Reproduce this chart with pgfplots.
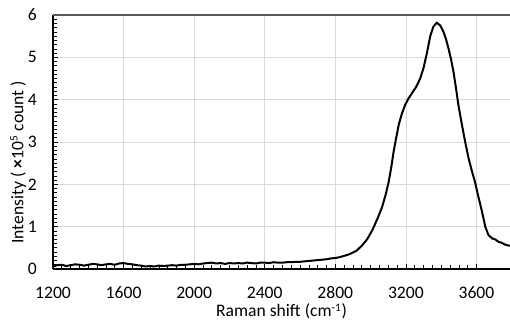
\documentclass[border=0pt]{standalone}
\usepackage{fontspec}
\setmainfont{Carlito}
\usepackage{pgfplots}
\pgfplotsset{compat=1.18}
\begin{document}
\begin{tikzpicture}
\begin{axis}[
  at={(0pt,0pt)}, anchor=south west,
  scale only axis,
  width=342.75pt, height=190.5pt,
  xmin=1200, xmax=3790, ymin=0, ymax=6,
  xtick={1200,1600,...,3600}, ytick={0,1,...,6},
  minor x tick num=7, minor y tick num=9,
  axis x line*=bottom, axis y line*=left,
  axis line style={black, line width=0.8pt},
  tick align=inside,
  major tick length=4pt, minor tick length=2.8pt,
  tick style={black, line width=0.5pt},
  grid=major, major grid style={gray!30, line width=0.6pt},
  /pgf/number format/assume math mode=true,
  /pgf/number format/1000 sep={},
  tick label style={font=\fontsize{13.2}{14}\selectfont, inner sep=0pt},
  xticklabel style={anchor=base, yshift=-22pt},
  yticklabel style={anchor=east, xshift=-12pt},
  xlabel={Raman shift (cm\textsuperscript{\fontsize{8.5}{8.5}\selectfont -1})},
  xlabel style={font=\fontsize{13.2}{14}\selectfont, at={(rel axis cs:0.5,0)}, anchor=base, inner sep=0pt, yshift=-36pt},
  ylabel={Intensity ( \textbf{×}10\textsuperscript{\fontsize{8.5}{8.5}\selectfont 5} count )},
  ylabel style={font=\fontsize{13.2}{14}\selectfont, at={(rel axis cs:0,0.42)}, anchor=center, inner sep=0pt, yshift=26pt},
  clip=false,
]
\draw[gray!70!black, line width=0.8pt] (rel axis cs:0,1) -- (rel axis cs:1,1);
\addplot[black, line width=1.5pt, line join=round] coordinates {
(1200,0.06)(1225,0.09)(1250,0.10)(1275,0.07)(1300,0.09)(1325,0.11)(1350,0.10)(1375,0.08)(1400,0.10)(1425,0.12)(1450,0.11)(1475,0.09)(1500,0.11)(1525,0.12)(1550,0.10)(1575,0.13)(1600,0.14)(1625,0.12)(1650,0.11)(1675,0.09)(1700,0.08)(1725,0.06)(1750,0.07)(1775,0.06)(1800,0.08)(1825,0.07)(1850,0.08)(1875,0.09)(1900,0.08)(1925,0.10)(1950,0.10)(1975,0.11)(2000,0.12)(2025,0.11)(2050,0.13)(2075,0.14)(2100,0.15)(2125,0.13)(2150,0.14)(2175,0.12)(2200,0.14)(2225,0.13)(2250,0.14)(2275,0.13)(2300,0.15)(2325,0.14)(2350,0.13)(2375,0.15)(2400,0.15)(2425,0.14)(2450,0.16)(2475,0.15)(2500,0.15)(2525,0.16)(2550,0.16)(2575,0.17)(2600,0.17)(2625,0.18)(2650,0.19)(2675,0.20)(2700,0.21)(2725,0.22)(2750,0.23)(2775,0.25)(2800,0.26)(2825,0.28)(2850,0.31)(2880,0.35)(2920,0.43)(2950,0.55)(2980,0.70)(3010,0.92)(3040,1.20)(3064,1.45)(3085,1.75)(3102,2.05)(3117,2.40)(3130,2.76)(3145,3.10)(3160,3.42)(3178,3.68)(3196,3.88)(3215,4.03)(3234,4.15)(3258,4.30)(3281,4.50)(3300,4.75)(3320,5.12)(3338,5.50)(3355,5.72)(3375,5.82)(3395,5.75)(3413,5.60)(3428,5.42)(3442,5.20)(3456,4.95)(3470,4.65)(3484,4.27)(3498,3.86)(3517,3.42)(3536,3.00)(3555,2.62)(3575,2.30)(3592,2.05)(3610,1.72)(3630,1.38)(3650,1.00)(3668,0.80)(3690,0.72)(3706,0.70)(3725,0.64)(3743,0.62)(3760,0.58)(3775,0.56)(3790,0.55)
};
\end{axis}
\pgfresetboundingbox
\path (-39.75pt,-38.25pt) rectangle (342.75pt,201.75pt);
\end{tikzpicture}
\end{document}
